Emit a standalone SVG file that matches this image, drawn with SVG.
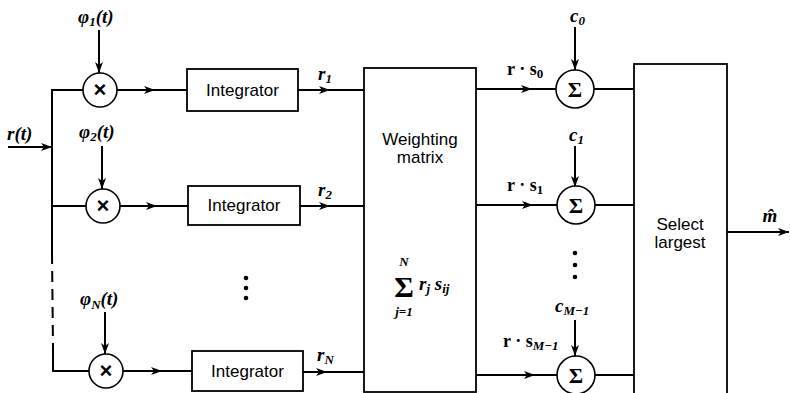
<svg xmlns="http://www.w3.org/2000/svg" width="790" height="393" viewBox="0 0 790 393">
<style>
.ln{fill:none;stroke:#000;stroke-width:2}
.bx{fill:#fff;stroke:#000;stroke-width:1.8}
.cir{fill:#fff;stroke:#000;stroke-width:1.6}
.lbl{font-family:"Liberation Sans",Arial,sans-serif;font-size:17px;fill:#000}
.m{font-family:"Liberation Serif","Times New Roman",serif;font-size:19px;font-style:italic;font-weight:bold;fill:#000}
.v{font-family:"Liberation Serif","Times New Roman",serif;font-size:18px;font-weight:bold;fill:#000}
.op{font-family:"Liberation Sans",Arial,sans-serif;font-size:22px;font-weight:bold;fill:#000}
.sig{font-family:"Liberation Serif","Times New Roman",serif;font-size:22px;font-weight:bold;fill:#000}
.sub{font-size:13px}
.ism{font-style:italic}
</style>
<defs>
<marker id="ah" markerWidth="12" markerHeight="10" refX="11" refY="4" orient="auto" markerUnits="userSpaceOnUse">
<path d="M0,0 L11,4 L0,8 L3,4 Z" fill="#000"/>
</marker>
</defs>
<rect width="790" height="393" fill="#fff"/>
<g id="connectors">
<line class="ln" x1="8" y1="147" x2="52" y2="147" marker-end="url(#ah)"/>
<polyline class="ln" points="84,90 52,90 52,253"/>
<line class="ln" x1="52" y1="253" x2="53" y2="347" stroke-dasharray="11,7"/>
<polyline class="ln" points="53,347 53,371 89,371"/>
<line class="ln" x1="52" y1="206" x2="86" y2="206"/>
<line class="ln" x1="99" y1="30" x2="99" y2="73" marker-end="url(#ah)"/>
<line class="ln" x1="102" y1="146" x2="102" y2="189" marker-end="url(#ah)"/>
<line class="ln" x1="105" y1="312" x2="105" y2="354" marker-end="url(#ah)"/>
<polyline class="ln" points="117,90 155,90 187,90" marker-mid="url(#ah)"/>
<polyline class="ln" points="120,206 157,206 188,206" marker-mid="url(#ah)"/>
<polyline class="ln" points="123,371 162,371 192,371" marker-mid="url(#ah)"/>
<polyline class="ln" points="298,90 330,90 364,90" marker-mid="url(#ah)"/>
<polyline class="ln" points="300,206 330,206 365,206" marker-mid="url(#ah)"/>
<polyline class="ln" points="303,372 327,372 367,372" marker-mid="url(#ah)"/>
<polyline class="ln" points="476,89 532,89 556,89" marker-mid="url(#ah)"/>
<polyline class="ln" points="476,205 533,205 557,205" marker-mid="url(#ah)"/>
<polyline class="ln" points="476,375 535,375 557,375" marker-mid="url(#ah)"/>
<line class="ln" x1="575" y1="27" x2="575" y2="70" marker-end="url(#ah)"/>
<line class="ln" x1="575" y1="146" x2="575" y2="187" marker-end="url(#ah)"/>
<line class="ln" x1="575" y1="320" x2="575" y2="356" marker-end="url(#ah)"/>
<line class="ln" x1="594" y1="89" x2="634" y2="89"/>
<line class="ln" x1="594" y1="205" x2="634" y2="205"/>
<line class="ln" x1="595" y1="375" x2="634" y2="375"/>
<line class="ln" x1="727" y1="232" x2="789" y2="232" marker-end="url(#ah)"/>
</g>
<g id="input-label"><text class="m" x="7" y="140">r(t)</text></g>
<g id="mult1">
<circle class="cir" cx="100" cy="90" r="17"/>
<text class="op" x="100" y="97" text-anchor="middle">×</text>
<text class="m" x="78" y="23">φ<tspan class="sub" dy="3">1</tspan><tspan dy="-3">(t)</tspan></text>
</g>
<g id="mult2">
<circle class="cir" cx="103" cy="206" r="17"/>
<text class="op" x="103" y="213" text-anchor="middle">×</text>
<text class="m" x="79" y="138">φ<tspan class="sub" dy="3">2</tspan><tspan dy="-3">(t)</tspan></text>
</g>
<g id="multN">
<circle class="cir" cx="106" cy="371" r="17"/>
<text class="op" x="106" y="378" text-anchor="middle">×</text>
<text class="m" x="80" y="305">φ<tspan class="sub" dy="4">N</tspan><tspan dy="-4">(t)</tspan></text>
</g>
<g id="int1">
<rect class="bx" x="187" y="69" width="111" height="42"/>
<text class="lbl" x="242.5" y="96" text-anchor="middle">Integrator</text>
<text class="m" x="318" y="80">r<tspan class="sub" dy="3">1</tspan></text>
</g>
<g id="int2">
<rect class="bx" x="188" y="186" width="112" height="39"/>
<text class="lbl" x="244" y="211" text-anchor="middle">Integrator</text>
<text class="m" x="318" y="196">r<tspan class="sub" dy="3">2</tspan></text>
</g>
<g id="intdots">
<circle cx="246" cy="278" r="2.3"/><circle cx="246" cy="288" r="2.3"/><circle cx="246" cy="298" r="2.3"/>
</g>
<g id="intN">
<rect class="bx" x="192" y="351" width="111" height="40"/>
<text class="lbl" x="247.5" y="377" text-anchor="middle">Integrator</text>
<text class="m" x="317" y="361">r<tspan class="sub" dy="3">N</tspan></text>
</g>
<g id="weighting">
<rect class="bx" x="364" y="68" width="112" height="324"/>
<text class="lbl" x="420" y="145" text-anchor="middle">Weighting</text>
<text class="lbl" x="420" y="163" text-anchor="middle">matrix</text>
<text class="m" x="404" y="266" text-anchor="middle" style="font-size:13px">N</text>
<text class="sig" x="404" y="297" text-anchor="middle" style="font-size:30px">Σ</text>
<text class="m" x="404" y="316" text-anchor="middle" style="font-size:13px">j=1</text>
<text class="m" x="419" y="290">r<tspan class="sub" dy="3">j</tspan><tspan dy="-3"> s</tspan><tspan class="sub" dy="3">ij</tspan></text>
</g>
<g id="sum0">
<circle class="cir" cx="575" cy="89" r="19"/>
<text class="sig" x="575" y="97" text-anchor="middle">Σ</text>
<text class="m" x="570" y="22">c<tspan class="sub" dy="3">0</tspan></text>
<text class="v" x="507" y="75">r · s<tspan class="sub" dy="3">0</tspan></text>
</g>
<g id="sum1">
<circle class="cir" cx="576" cy="205" r="19"/>
<text class="sig" x="576" y="213" text-anchor="middle">Σ</text>
<text class="m" x="569" y="141">c<tspan class="sub" dy="3">1</tspan></text>
<text class="v" x="507" y="191">r · s<tspan class="sub" dy="3">1</tspan></text>
</g>
<g id="sumdots">
<circle cx="575" cy="253" r="2.3"/><circle cx="575" cy="265" r="2.3"/><circle cx="575" cy="277" r="2.3"/>
</g>
<g id="sumM">
<circle class="cir" cx="576" cy="375" r="19"/>
<text class="sig" x="576" y="383" text-anchor="middle">Σ</text>
<text class="m" x="555" y="312">c<tspan class="sub" dy="3">M−1</tspan></text>
<text class="v" x="503" y="347">r · s<tspan class="sub ism" dy="3">M−1</tspan></text>
</g>
<g id="select">
<rect class="bx" x="634" y="64" width="93" height="340"/>
<text class="lbl" x="680" y="230" text-anchor="middle">Select</text>
<text class="lbl" x="680" y="248" text-anchor="middle">largest</text>
<text class="m" x="770" y="222" text-anchor="middle">m̂</text>
</g>
</svg>
